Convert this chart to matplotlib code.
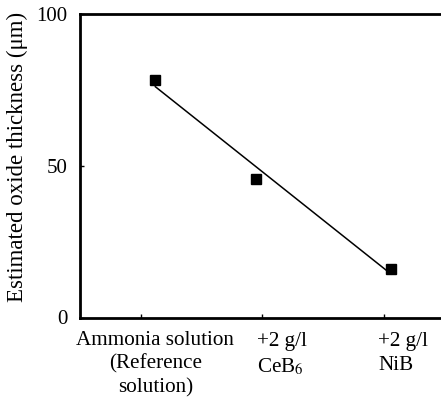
import matplotlib
matplotlib.use("Agg")
import matplotlib.pyplot as plt
import numpy as np

# Data
categories = ["Ammonia solution\n(Reference\nsolution)", "+2 g/l\nCeB$_6$", "+2 g/l\nNiB"]
x_vals = [0.62, 1.45, 2.56]
thickness = [78.3, 45.7, 16.0]
y_ticks = [0, 50, 100]

plt.rcParams['font.family'] = ['Liberation Serif', 'DejaVu Serif']
plt.rcParams['mathtext.fontset'] = 'stix'

fig = plt.figure(figsize=(4.41, 4.04), dpi=100)
ax = fig.add_axes([80/441, 1-317.5/404, 364.5/441, (317.5-14)/404])

# trend line (linear fit)
coef = np.polyfit(x_vals, thickness, 1)
xl = np.array([x_vals[0], x_vals[-1]])
ax.plot(xl, np.polyval(coef, xl), color='black', lw=1.1, zorder=2)
ax.plot(x_vals, thickness, linestyle='none', marker='s', ms=7.5, color='black', zorder=3)

ax.set_xlim(0, 3)
ax.set_ylim(0, 100)
ax.set_yticks(y_ticks)
ax.set_yticklabels([str(v) for v in y_ticks], fontsize=15)
ax.set_xticks([0.5, 1.5, 2.5])
ax.set_xticklabels([])
ax.tick_params(direction='in', length=3, width=1, pad=9)
for s in ax.spines.values():
    s.set_linewidth(2)

ax.set_ylabel("Estimated oxide thickness (μm)", fontsize=16.5)
ax.yaxis.set_label_coords(-0.142, 0.53)

trans = ax.get_xaxis_transform()
ax.text(0.62, -0.043, categories[0], transform=trans, ha='center', va='top',
        fontsize=15.2, multialignment='center', linespacing=1.33)
ax.text(1.457, -0.048, categories[1], transform=trans, ha='left', va='top',
        fontsize=15.2, multialignment='left', linespacing=1.33)
ax.text(2.453, -0.048, categories[2], transform=trans, ha='left', va='top',
        fontsize=15.2, multialignment='left', linespacing=1.33)

fig.savefig("out.png", dpi=100)
